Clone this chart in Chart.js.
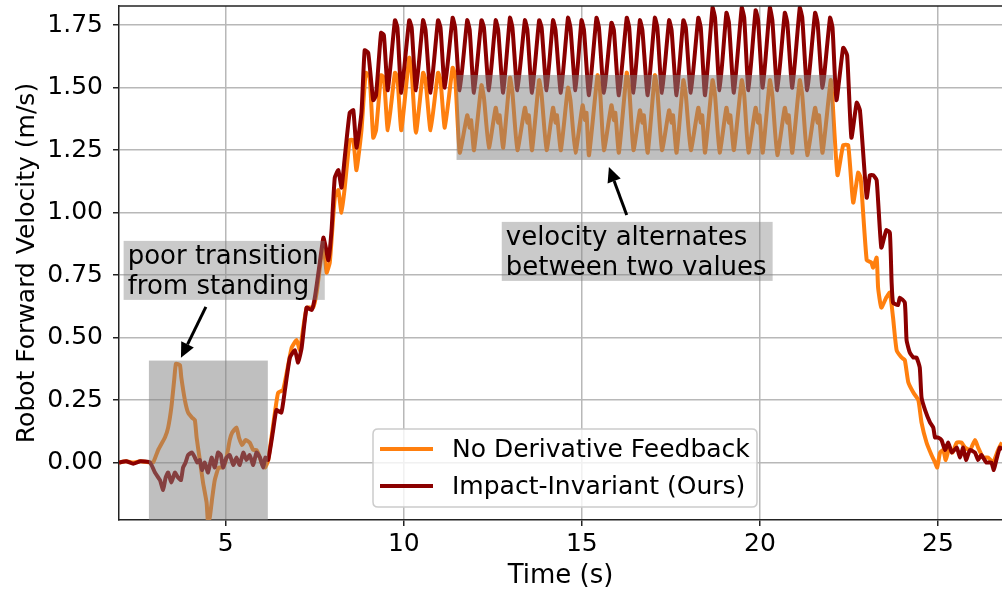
<!DOCTYPE html>
<html>
<head>
<meta charset="utf-8">
<script src="https://cdn.jsdelivr.net/npm/chart.js@4.4.0/dist/chart.umd.min.js"></script>
<style>
  html, body { margin: 0; padding: 0; background: #fff; }
  #wrap { width: 1002px; height: 592px; position: relative; }
</style>
</head>
<body>
<div id="wrap"><canvas id="velChart"></canvas></div>
<script>
// [time (s), forward velocity (m/s)]
const noDerivSamples = [
  [2.00, 0.00], [2.20, 0.005], [2.40, 0.00], [2.60, 0.005], [2.87, 0.00], [2.96, 0.00],
  [3.10, 0.05], [3.29, 0.10], [3.38, 0.14], [3.47, 0.22], [3.55, 0.33], [3.60, 0.395],
  [3.71, 0.39], [3.75, 0.34], [3.85, 0.25], [3.94, 0.20], [4.05, 0.18], [4.13, 0.17],
  [4.18, 0.10], [4.27, 0.01], [4.36, -0.08], [4.46, -0.16], [4.50, -0.24], [4.55, -0.22],
  [4.62, -0.14], [4.69, -0.07], [4.80, -0.02], [4.92, -0.02], [5.02, 0.02], [5.11, 0.09],
  [5.18, 0.12], [5.30, 0.14], [5.37, 0.10], [5.46, 0.07], [5.55, 0.09], [5.67, 0.08],
  [5.77, 0.05], [5.86, 0.05], [5.93, 0.03], [6.00, 0.00], [6.10, -0.02], [6.19, 0.01],
  [6.38, 0.20], [6.47, 0.28], [6.61, 0.29], [6.85, 0.46], [6.99, 0.49], [7.08, 0.45],
  [7.27, 0.62], [7.45, 0.62], [7.55, 0.68], [7.74, 0.88], [7.83, 0.76], [7.92, 0.80],
  [8.06, 1.06], [8.16, 1.09], [8.25, 1.00], [8.34, 1.10], [8.48, 1.29], [8.58, 1.29],
  [8.67, 1.17], [8.81, 1.33], [8.93, 1.56], [9.04, 1.54], [9.14, 1.30], [9.22, 1.33],
  [9.36, 1.55], [9.44, 1.54], [9.55, 1.33], [9.75, 1.56], [9.82, 1.54], [9.93, 1.33],
  [10.15, 1.62], [10.22, 1.56], [10.34, 1.32], [10.54, 1.56], [10.61, 1.53], [10.75, 1.33],
  [10.96, 1.56], [11.03, 1.53], [11.15, 1.34], [11.37, 1.58], [11.44, 1.55], [11.57, 1.24],
  [11.78, 1.39], [11.85, 1.34], [11.89, 1.37], [11.97, 1.25],
  [12.18, 1.51], [12.25, 1.46], [12.39, 1.26],
  [12.58, 1.42], [12.65, 1.36], [12.69, 1.39], [12.79, 1.26],
  [12.98, 1.54], [13.05, 1.48], [13.19, 1.25],
  [13.40, 1.42], [13.47, 1.36], [13.51, 1.39], [13.60, 1.25],
  [13.80, 1.53], [13.87, 1.47], [14.01, 1.25],
  [14.19, 1.42], [14.26, 1.36], [14.30, 1.39], [14.41, 1.25],
  [14.61, 1.50], [14.68, 1.45], [14.82, 1.24],
  [15.02, 1.43], [15.09, 1.37], [15.13, 1.40], [15.20, 1.23],
  [15.44, 1.55], [15.51, 1.49], [15.62, 1.25],
  [15.83, 1.43], [15.90, 1.37], [15.94, 1.40], [16.04, 1.24],
  [16.26, 1.56], [16.33, 1.50], [16.45, 1.25],
  [16.63, 1.41], [16.70, 1.36], [16.74, 1.39], [16.85, 1.24],
  [17.05, 1.55], [17.12, 1.49], [17.25, 1.25],
  [17.45, 1.41], [17.52, 1.36], [17.56, 1.39], [17.66, 1.24],
  [17.85, 1.53], [17.92, 1.47], [18.06, 1.25],
  [18.27, 1.42], [18.34, 1.36], [18.38, 1.39], [18.46, 1.24],
  [18.67, 1.53], [18.74, 1.47], [18.87, 1.24],
  [19.06, 1.42], [19.13, 1.36], [19.17, 1.39], [19.27, 1.25],
  [19.49, 1.53], [19.56, 1.47], [19.68, 1.24],
  [19.88, 1.42], [19.95, 1.36], [19.99, 1.39], [20.08, 1.24],
  [20.28, 1.53], [20.35, 1.47], [20.49, 1.23],
  [20.70, 1.42], [20.77, 1.36], [20.81, 1.39], [20.91, 1.24],
  [21.12, 1.53], [21.19, 1.47], [21.33, 1.23],
  [21.55, 1.42], [21.62, 1.36], [21.66, 1.39], [21.76, 1.24],
  [21.99, 1.53], [22.04, 1.45], [22.18, 1.15], [22.34, 1.27], [22.48, 1.27], [22.62, 1.04],
  [22.76, 1.16], [22.83, 1.14], [23.00, 0.81], [23.13, 0.80], [23.18, 0.78], [23.28, 0.82],
  [23.32, 0.70], [23.41, 0.62], [23.55, 0.66], [23.65, 0.68], [23.74, 0.58], [23.84, 0.45],
  [23.98, 0.42], [24.07, 0.41], [24.17, 0.32], [24.31, 0.28], [24.45, 0.25], [24.54, 0.16],
  [24.68, 0.08], [24.82, 0.03], [24.92, 0.00], [24.98, -0.02], [25.06, 0.04], [25.15, 0.05],
  [25.22, 0.01], [25.32, 0.06], [25.41, 0.04], [25.53, 0.08], [25.66, 0.08], [25.76, 0.06],
  [25.90, 0.05], [26.04, 0.09], [26.13, 0.06], [26.27, 0.02], [26.41, 0.02], [26.55, 0.00],
  [26.69, 0.05], [26.80, 0.08]
];

const impactSamples = [
  [2.00, 0.00], [2.20, 0.005], [2.40, -0.005], [2.60, 0.005], [2.87, 0.00], [3.01, -0.04],
  [3.15, -0.07], [3.24, -0.11], [3.31, -0.06], [3.38, -0.04], [3.47, -0.08], [3.57, -0.04],
  [3.66, -0.06], [3.74, -0.07], [3.80, -0.02], [3.87, 0.00], [3.94, 0.03], [4.05, 0.04],
  [4.13, 0.02], [4.20, 0.00], [4.27, 0.01], [4.33, -0.03], [4.41, 0.00], [4.50, -0.04],
  [4.60, 0.02], [4.69, -0.02], [4.78, 0.04], [4.86, 0.03], [4.92, -0.02], [5.02, 0.02],
  [5.11, 0.03], [5.21, -0.01], [5.30, 0.02], [5.39, -0.01], [5.49, 0.04], [5.58, 0.01],
  [5.67, 0.03], [5.77, -0.01], [5.86, 0.04], [5.96, 0.02], [6.05, -0.02], [6.11, 0.02],
  [6.19, 0.01], [6.33, 0.13], [6.42, 0.21], [6.56, 0.20], [6.66, 0.29], [6.80, 0.42],
  [6.94, 0.45], [7.03, 0.40], [7.13, 0.46], [7.27, 0.62], [7.41, 0.61], [7.50, 0.66],
  [7.64, 0.80], [7.74, 0.90], [7.81, 0.86], [7.88, 0.81], [7.97, 0.93], [8.06, 1.14],
  [8.16, 1.17], [8.25, 1.10], [8.34, 1.22], [8.48, 1.40], [8.58, 1.41], [8.67, 1.26],
  [8.81, 1.40], [8.90, 1.65], [9.00, 1.64], [9.14, 1.45], [9.22, 1.47], [9.36, 1.72],
  [9.44, 1.71], [9.55, 1.49],
  [9.75, 1.77], [9.82, 1.74], [9.93, 1.48],
  [10.15, 1.77], [10.22, 1.74], [10.34, 1.49],
  [10.54, 1.77], [10.61, 1.73], [10.75, 1.48],
  [10.96, 1.77], [11.03, 1.74], [11.15, 1.50],
  [11.37, 1.78], [11.44, 1.74], [11.57, 1.49],
  [11.78, 1.77], [11.85, 1.73], [11.97, 1.48],
  [12.18, 1.77], [12.25, 1.74], [12.39, 1.49],
  [12.58, 1.77], [12.65, 1.73], [12.79, 1.48],
  [12.98, 1.78], [13.05, 1.74], [13.19, 1.49],
  [13.40, 1.77], [13.47, 1.73], [13.60, 1.48],
  [13.80, 1.77], [13.87, 1.74], [14.01, 1.49],
  [14.19, 1.77], [14.26, 1.73], [14.41, 1.48],
  [14.61, 1.78], [14.68, 1.74], [14.82, 1.49],
  [14.99, 1.77], [15.06, 1.73], [15.20, 1.47],
  [15.41, 1.78], [15.48, 1.74], [15.62, 1.48],
  [15.83, 1.76], [15.90, 1.73], [16.04, 1.47],
  [16.26, 1.78], [16.33, 1.74], [16.45, 1.48],
  [16.63, 1.77], [16.70, 1.73], [16.85, 1.47],
  [17.05, 1.78], [17.12, 1.74], [17.25, 1.48],
  [17.45, 1.77], [17.52, 1.73], [17.66, 1.47],
  [17.85, 1.77], [17.92, 1.74], [18.06, 1.48],
  [18.27, 1.78], [18.34, 1.74], [18.46, 1.47],
  [18.67, 1.82], [18.74, 1.78], [18.87, 1.49],
  [19.06, 1.80], [19.13, 1.76], [19.27, 1.48],
  [19.49, 1.82], [19.56, 1.78], [19.68, 1.49],
  [19.88, 1.81], [19.95, 1.77], [20.08, 1.50],
  [20.28, 1.82], [20.35, 1.77], [20.49, 1.49],
  [20.70, 1.80], [20.77, 1.76], [20.91, 1.50],
  [21.12, 1.82], [21.19, 1.78], [21.33, 1.49],
  [21.55, 1.80], [21.62, 1.76], [21.76, 1.50],
  [21.97, 1.78], [22.04, 1.74], [22.15, 1.45], [22.34, 1.66], [22.45, 1.63], [22.57, 1.30],
  [22.72, 1.44], [22.81, 1.41], [23.00, 1.06], [23.09, 1.15], [23.18, 1.15], [23.28, 1.13],
  [23.41, 0.86], [23.55, 0.93], [23.65, 0.92], [23.70, 0.72], [23.74, 0.64], [23.88, 0.63],
  [23.93, 0.66], [24.07, 0.64], [24.12, 0.49], [24.21, 0.44], [24.31, 0.42], [24.40, 0.42],
  [24.49, 0.38], [24.54, 0.26], [24.64, 0.21], [24.78, 0.16], [24.87, 0.14], [24.92, 0.10],
  [25.01, 0.10], [25.10, 0.09], [25.20, 0.05], [25.29, 0.08], [25.39, 0.04], [25.53, 0.06],
  [25.62, 0.02], [25.71, 0.06], [25.79, 0.01], [25.90, 0.05], [26.04, 0.04], [26.13, 0.01],
  [26.22, 0.03], [26.36, 0.00], [26.50, 0.00], [26.57, -0.03], [26.64, 0.01], [26.74, 0.06],
  [26.80, 0.05]
];

const seriesLabels = ['No Derivative Feedback', 'Impact-Invariant (Ours)'];
const timeTicks = [5, 10, 15, 20, 25];
const velTicks = [0.00, 0.25, 0.50, 0.75, 1.00, 1.25, 1.50, 1.75];

const ORANGE = '#ff7f0e';
const DARKRED = '#8b0000';
const FONT = 'DejaVu Sans';

// shaded regions, in data units: [t0, t1, v0, v1]
const shadeRegions = [
  [2.84, 6.18, -0.5, 0.408],
  [11.48, 22.06, 1.211, 1.551]
];

// callout text boxes (anchor = top-left in data units) and arrows (tail -> head)
const callouts = [
  { lines: ['poor transition', 'from standing'], t: 2.13, v: 0.887, tail: [4.44, 0.623], head: [3.74, 0.419] },
  { lines: ['velocity alternates', 'between two values'], t: 12.75, v: 0.963, tail: [16.26, 0.991], head: [15.76, 1.183] }
];

const toPoints = arr => arr.map(p => ({ x: p[0], y: p[1] }));

function drawArrow(ctx, x1, y1, x2, y2) {
  const a = Math.atan2(y2 - y1, x2 - x1);
  const len = 15, half = 7;
  const bx = x2 - len * Math.cos(a), by = y2 - len * Math.sin(a);
  ctx.strokeStyle = '#000';
  ctx.fillStyle = '#000';
  ctx.lineWidth = 3;
  ctx.beginPath();
  ctx.moveTo(x1, y1);
  ctx.lineTo(bx, by);
  ctx.stroke();
  ctx.beginPath();
  ctx.moveTo(x2, y2);
  ctx.lineTo(bx + half * Math.sin(a), by - half * Math.cos(a));
  ctx.lineTo(bx - half * Math.sin(a), by + half * Math.cos(a));
  ctx.closePath();
  ctx.fill();
}

const overlayPlugin = {
  id: 'overlay',
  afterDatasetsDraw(chart) {
    const { ctx, chartArea: ca, scales: { x, y } } = chart;

    // grey highlight boxes sit over the traces
    ctx.save();
    ctx.beginPath();
    ctx.rect(ca.left, ca.top, ca.right - ca.left, ca.bottom - ca.top);
    ctx.clip();
    ctx.fillStyle = 'rgba(128,128,128,0.5)';
    shadeRegions.forEach(r => {
      const x0 = x.getPixelForValue(r[0]), x1 = x.getPixelForValue(r[1]);
      const y0 = y.getPixelForValue(r[3]), y1 = y.getPixelForValue(r[2]);
      ctx.fillRect(x0, y0, x1 - x0, y1 - y0);
    });
    ctx.restore();

    // callouts
    ctx.save();
    ctx.font = '26px "' + FONT + '"';
    ctx.textBaseline = 'alphabetic';
    callouts.forEach(c => {
      const left = x.getPixelForValue(c.t), top = y.getPixelForValue(c.v);
      const w = Math.max(...c.lines.map(s => ctx.measureText(s).width)) + 10;
      ctx.fillStyle = 'rgba(128,128,128,0.42)';
      ctx.fillRect(left, top, w, 59);
      ctx.fillStyle = '#000';
      c.lines.forEach((s, i) => ctx.fillText(s, left + 4, top + 23 + i * 30));
      drawArrow(ctx, x.getPixelForValue(c.tail[0]), y.getPixelForValue(c.tail[1]),
                x.getPixelForValue(c.head[0]), y.getPixelForValue(c.head[1]));
    });
    ctx.restore();
  },
  afterDraw(chart) {
    const { ctx, chartArea: ca } = chart;
    ctx.save();
    // top spine
    ctx.strokeStyle = '#222';
    ctx.lineWidth = 1.5;
    ctx.beginPath();
    ctx.moveTo(ca.left, ca.top);
    ctx.lineTo(ca.right, ca.top);
    ctx.stroke();

    // legend box
    const lx = ca.left + 254, ly = ca.bottom - 91, lw = 384, lh = 78, r = 5;
    ctx.beginPath();
    ctx.moveTo(lx + r, ly);
    ctx.lineTo(lx + lw - r, ly);
    ctx.quadraticCurveTo(lx + lw, ly, lx + lw, ly + r);
    ctx.lineTo(lx + lw, ly + lh - r);
    ctx.quadraticCurveTo(lx + lw, ly + lh, lx + lw - r, ly + lh);
    ctx.lineTo(lx + r, ly + lh);
    ctx.quadraticCurveTo(lx, ly + lh, lx, ly + lh - r);
    ctx.lineTo(lx, ly + r);
    ctx.quadraticCurveTo(lx, ly, lx + r, ly);
    ctx.closePath();
    ctx.fillStyle = 'rgba(255,255,255,0.8)';
    ctx.fill();
    ctx.strokeStyle = '#cccccc';
    ctx.lineWidth = 1.5;
    ctx.stroke();

    const colors = [ORANGE, DARKRED];
    ctx.font = '25px "' + FONT + '"';
    ctx.textBaseline = 'middle';
    seriesLabels.forEach((lab, i) => {
      const ry = ly + 20 + i * 37;
      ctx.strokeStyle = colors[i];
      ctx.lineWidth = 4;
      ctx.beginPath();
      ctx.moveTo(lx + 7, ry);
      ctx.lineTo(lx + 60, ry);
      ctx.stroke();
      ctx.fillStyle = '#000';
      ctx.fillText(lab, lx + 79, ry + 1);
    });
    ctx.restore();
  }
};

const ctx = document.getElementById('velChart').getContext('2d');

new Chart(ctx, {
  type: 'line',
  data: {
    datasets: [
      {
        label: seriesLabels[0],
        data: toPoints(noDerivSamples),
        borderColor: ORANGE,
        borderWidth: 4,
        pointRadius: 0,
        tension: 0.15,
        borderJoinStyle: 'round',
        order: 2
      },
      {
        label: seriesLabels[1],
        data: toPoints(impactSamples),
        borderColor: DARKRED,
        borderWidth: 4,
        pointRadius: 0,
        tension: 0.15,
        borderJoinStyle: 'round',
        order: 1
      }
    ]
  },
  options: {
    responsive: true,
    maintainAspectRatio: false,
    animation: false,
    layout: { padding: { top: 6, right: 0, left: 0, bottom: 0 } },
    plugins: {
      legend: { display: false },
      tooltip: { enabled: false }
    },
    scales: {
      x: {
        type: 'linear',
        min: 2.0,
        max: 26.8,
        afterBuildTicks: s => { s.ticks = timeTicks.map(v => ({ value: v })); },
        afterFit: s => { s.height = 72; s.paddingLeft = 0; s.paddingRight = 0; },
        grid: { color: '#b8b8b8', lineWidth: 1.5, tickColor: '#222', tickWidth: 1.5, tickLength: 6 },
        border: { color: '#222', width: 1.5 },
        ticks: { font: { family: FONT, size: 25 }, color: '#000', padding: 3, maxRotation: 0 },
        title: { display: true, text: 'Time (s)', font: { family: FONT, size: 26 }, color: '#000', padding: { top: 5, bottom: 0 } }
      },
      y: {
        type: 'linear',
        min: -0.23,
        max: 1.827,
        afterBuildTicks: s => { s.ticks = velTicks.map(v => ({ value: v })); },
        afterFit: s => { s.width = 119; s.paddingTop = 0; s.paddingBottom = 0; },
        grid: { color: '#b8b8b8', lineWidth: 1.5, tickColor: '#222', tickWidth: 1.5, tickLength: 6 },
        border: { color: '#222', width: 1.5 },
        ticks: { font: { family: FONT, size: 25 }, color: '#000', padding: 10, callback: v => v.toFixed(2) },
        title: { display: true, text: 'Robot Forward Velocity (m/s)', font: { family: FONT, size: 25 }, color: '#000', padding: { top: 12, bottom: 0 } }
      }
    }
  },
  plugins: [overlayPlugin]
});
</script>
</body>
</html>
